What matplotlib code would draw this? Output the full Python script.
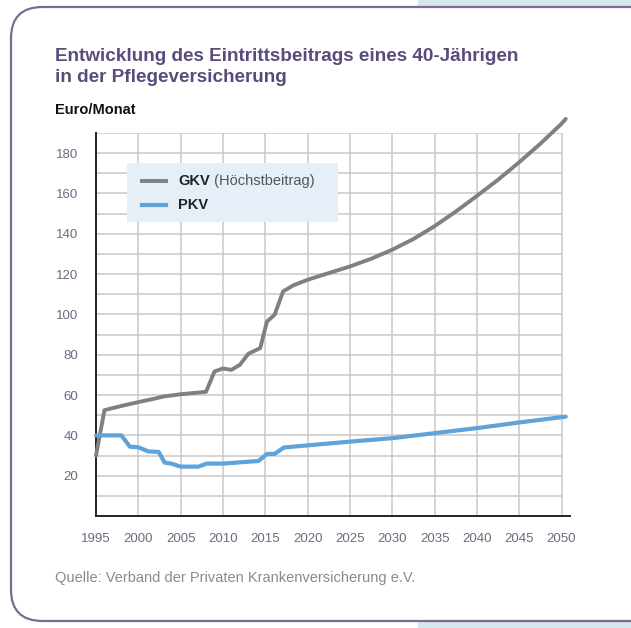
import matplotlib
matplotlib.use("Agg")
import matplotlib.pyplot as plt
from matplotlib.patches import FancyBboxPatch, Rectangle

plt.rcParams['font.family'] = ['Liberation Sans', 'DejaVu Sans']

W, H = 631, 628

# GKV (Höchstbeitrag), Euro/Monat
gkv_years = [1995, 1996, 1998, 2000, 2002, 2003, 2005, 2008, 2009, 2010, 2011,
             2012, 2013, 2014.4, 2015.2, 2016.1, 2017.1, 2018.3, 2020, 2022.5,
             2025, 2027.5, 2030, 2032.5, 2035, 2037.5, 2040, 2042.5, 2045,
             2047.5, 2050, 2050.5]
gkv_vals = [30, 52.5, 54.6, 56.5, 58.3, 59.3, 60.4, 61.6, 71.7, 73.2, 72.5,
            75, 80.5, 83.3, 96.5, 99.8, 111.4, 114.4, 117.2, 120.5,
            123.8, 127.6, 132.1, 137.4, 143.8, 151.0, 158.8, 166.8, 175.5,
            184.7, 194.6, 197]

# PKV
pkv_years = [1995, 1998, 1999, 2000, 2001.2, 2002.4, 2003.1, 2003.9, 2005,
             2007.1, 2008.1, 2010, 2011.6, 2014.2, 2015.2, 2016.1, 2017.2,
             2025, 2030, 2035, 2040, 2045, 2050.5]
pkv_vals = [40, 40, 34.4, 34.1, 32, 31.8, 26.5, 26, 24.5,
            24.5, 26, 26, 26.5, 27.3, 30.8, 30.8, 34,
            36.9, 38.6, 41.1, 43.6, 46.4, 49.3]

x_ticks = list(range(1995, 2051, 5))
y_ticks = list(range(20, 181, 20))
y_grid = list(range(10, 191, 10))

TITLE_C = '#5b4b7b'
TICK_C = '#6b6b80'
GRID_C = '#c9c9c9'
GKV_C = '#808080'
PKV_C = '#5ea3dc'


def fx(px):
    return px / W


def fy(py):
    return 1 - py / H


fig = plt.figure(figsize=(W / 100, H / 100), dpi=100)

# page background strips and rounded frame
fig.patches.append(Rectangle((fx(418), fy(6)), fx(631) - fx(418), 6 / H,
                             transform=fig.transFigure, color='#d4e6ee', zorder=-2))
fig.patches.append(Rectangle((fx(418), 0), fx(631) - fx(418), 6 / H,
                             transform=fig.transFigure, color='#d4e6ee', zorder=-2))
fig.patches.append(FancyBboxPatch((fx(11), fy(621)), fx(720) - fx(11), fy(7) - fy(621),
                                  boxstyle='round,pad=0,rounding_size=0.05',
                                  transform=fig.transFigure, facecolor='white',
                                  edgecolor='#7b6b91', linewidth=1.6, zorder=-1))

ax = fig.add_axes([fx(96), fy(516), fx(570) - fx(96), fy(133) - fy(516)])
ax.set_zorder(2)
ax.set_facecolor('none')
ax.set_xlim(1995, 2051)
ax.set_ylim(0, 190)

ax.hlines(y_grid, 1995, 2050, color=GRID_C, linewidth=1.1, zorder=1)
ax.vlines(x_ticks[1:], 0, 190, color=GRID_C, linewidth=1.1, zorder=1)

ax.plot(gkv_years, gkv_vals, color=GKV_C, linewidth=2.8, clip_on=False, zorder=3,
        solid_capstyle='round', solid_joinstyle='round')
ax.plot(pkv_years, pkv_vals, color=PKV_C, linewidth=3.0, clip_on=False, zorder=3,
        solid_capstyle='round', solid_joinstyle='round')

for s in ['top', 'right']:
    ax.spines[s].set_visible(False)
ax.spines['left'].set_color('#222222')
ax.spines['bottom'].set_color('#222222')
ax.spines['left'].set_linewidth(1.4)
ax.spines['bottom'].set_linewidth(1.4)

ax.set_xticks(x_ticks)
ax.set_yticks(y_ticks)
ax.tick_params(length=0, colors=TICK_C, labelsize=9.5)
ax.tick_params(axis='x', pad=12)
ax.tick_params(axis='y', pad=13)

# legend and texts (drawn on top of the axes)
lax = fig.add_axes([0, 0, 1, 1])
lax.set_zorder(3)
lax.axis('off')
lax.set_xlim(0, W)
lax.set_ylim(H, 0)
lax.add_patch(Rectangle((127, 163), 211, 59, facecolor='#e6eef8', edgecolor='none'))
lax.plot([142, 166], [181, 181], color=GKV_C, linewidth=2.8)
lax.plot([142, 166], [205, 205], color=PKV_C, linewidth=3.0)
t1 = lax.text(178, 181, 'GKV', fontsize=10.5, fontweight='bold', color='#222222',
              va='center')
lax.annotate(' (Höchstbeitrag)', xy=(1, 0.5), xycoords=t1, va='center', ha='left',
             fontsize=10.5, color='#555555')
lax.text(178, 205, 'PKV', fontsize=10.5, fontweight='bold', color='#222222', va='center')

lax.text(55, 48, 'Entwicklung des Eintrittsbeitrags eines 40-Jährigen\nin der Pflegeversicherung',
         fontsize=13.6, fontweight='bold', color=TITLE_C, va='top', linespacing=1.3)
lax.text(55, 110, 'Euro/Monat', fontsize=10.5, fontweight='bold', color='#111111',
         va='center')
lax.text(55, 578, 'Quelle: Verband der Privaten Krankenversicherung e.V.',
         fontsize=10.5, color='#8a8a8a', va='center')

fig.savefig('out.png', dpi=100)
